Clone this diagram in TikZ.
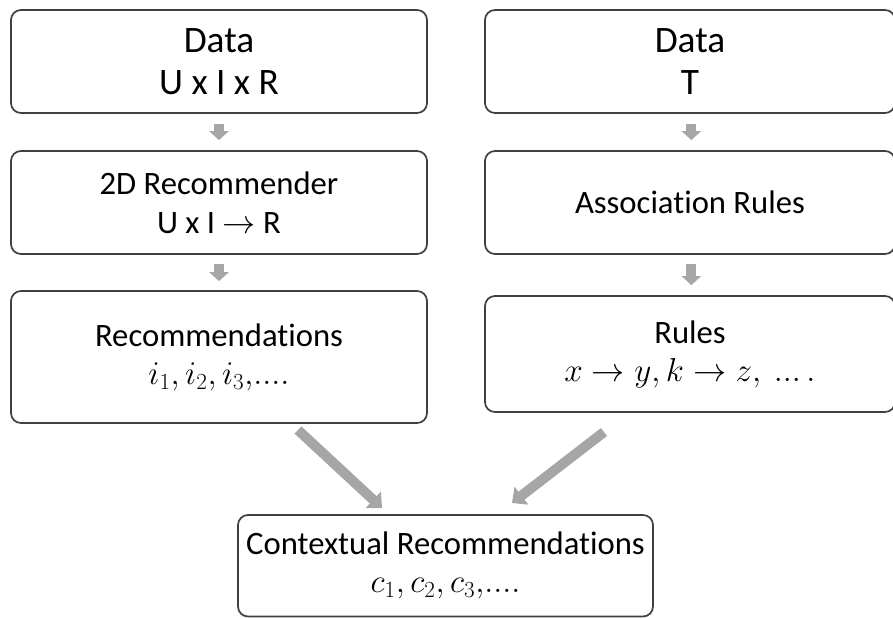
\documentclass[tikz,border=0pt]{standalone}
\usepackage{fontspec}
\setmainfont{Carlito}[Ligatures=NoCommon]
\usetikzlibrary{arrows.meta}
\definecolor{boxline}{RGB}{64,64,64}
\definecolor{flowgray}{RGB}{166,166,166}
\tikzset{
  stage/.style={draw=boxline, line width=1.3pt, rounded corners=7.5pt,
    rectangle, align=center, inner sep=0pt, minimum width=312pt,
    minimum height=77.25pt, font=\fontsize{24.5}{28.5}\selectfont},
  title/.style={font=\fontsize{28}{31.5}\selectfont},
  stepflow/.style={draw=flowgray, line width=7.5pt,
    -{Triangle[width=14.25pt,length=6.75pt]}},
  bigflow/.style={draw=flowgray, line width=7.5pt,
    -{Triangle[width=16.5pt,length=9pt]}}
}
\begin{document}
\begin{tikzpicture}[x=0.75pt,y=-0.75pt]
\useasboundingbox (0,0) rectangle (893,618);

% left column
\node[stage, title] (d1) at (219,61.5) {Data\\U x I x R};
\node[stage] (r2) at (219,202.5) {2D Recommender\\[1pt]U x I $\smash{\rightarrow}$ R};
\node[stage, minimum height=99pt] (rec) at (219,357)
  {Recommendations\\$i_1, i_2, i_3{,}....$};

% right column
\node[stage, title, minimum width=307.5pt] (d2) at (690,61.5) {Data\\T};
\node[stage, minimum width=307.5pt] (ar) at (690,202.5) {Association Rules};
\node[stage, minimum width=307.5pt, minimum height=87pt] (rules) at (690,354)
  {Rules\\$x \rightarrow y, k \rightarrow z,\ ...\,.$};

% result
\node[stage, minimum width=311.25pt, minimum height=76.125pt] (ctx) at (445.5,565.75)
  {Contextual Recommendations\\$c_1, c_2, c_3{,}....$};

% vertical step arrows
\draw[stepflow, shorten <=7.5pt, shorten >=7.5pt] (d1.south) -- (r2.north);
\draw[stepflow, shorten <=6.75pt, shorten >=6.75pt] (r2.south) -- (rec.north);
\draw[stepflow, shorten <=7.5pt, shorten >=7.5pt] ([xshift=1pt]d2.south) -- ([xshift=1pt]ar.north);
\draw[stepflow, shorten <=6.75pt, shorten >=7.5pt] ([xshift=1pt]ar.south) -- ([xshift=1pt]rules.north);

% diagonal arrows into the result
\coordinate (recout) at (298,430);
\coordinate (ctxinl) at (382,508);
\coordinate (rulesout) at (604,432);
\coordinate (ctxinr) at (512,503);
\draw[bigflow] (recout) -- (ctxinl);
\draw[bigflow] (rulesout) -- (ctxinr);
\end{tikzpicture}
\end{document}
